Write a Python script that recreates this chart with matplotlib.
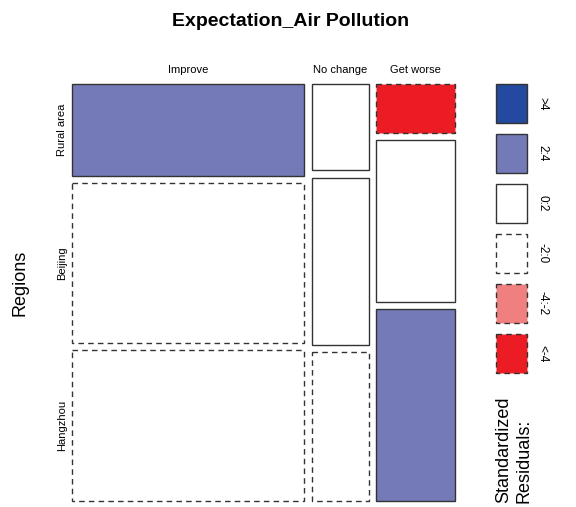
import numpy as np
import matplotlib.pyplot as plt
from matplotlib.patches import Rectangle

plt.rcParams['font.family'] = ['Liberation Sans', 'DejaVu Sans']

# contingency table: rows = regions, columns = expectation
regions = ["Rural area", "Beijing", "Hangzhou"]
expectation = ["Improve", "No change", "Get worse"]
counts = np.array([
    [576, 132, 104],
    [1000, 256, 344],
    [944, 228, 408],
])

legend_labels = [">4", "2:4", "0:2", "-2:0", "-4:-2", "<-4"]
legend_colors = ["#2449a0", "#7479b8", "#ffffff", "#ffffff", "#f08080", "#ec1c24"]
legend_dashed = [False, False, False, True, True, True]


def shade(r):
    # pick colour / line style from the Pearson residual
    if r > 4:
        i = 0
    elif r > 2:
        i = 1
    elif r >= 0:
        i = 2
    elif r > -2:
        i = 3
    elif r > -4:
        i = 4
    else:
        i = 5
    return legend_colors[i], legend_dashed[i]


n = counts.sum()
expected = np.outer(counts.sum(axis=1), counts.sum(axis=0)) / n
resid = (counts - expected) / np.sqrt(expected)

W, H = 576, 507
fig = plt.figure(figsize=(W / 100, H / 100), dpi=100)
ax = fig.add_axes([0, 0, 1, 1])
ax.set_xlim(0, W)
ax.set_ylim(H, 0)
ax.axis("off")

# mosaic area in pixels
x0, x1, y0, y1 = 72, 455, 84, 501
gap = 7.5
col_tot = counts.sum(axis=0)
col_w = (x1 - x0 - gap * (len(expectation) - 1)) * col_tot / col_tot.sum()
edge = "#333333"

x = x0
for j, lab in enumerate(expectation):
    heights = (y1 - y0 - gap * (len(regions) - 1)) * counts[:, j] / col_tot[j]
    y = y0
    for i in range(len(regions)):
        fc, dashed = shade(resid[i, j])
        ax.add_patch(Rectangle((x, y), col_w[j], heights[i], facecolor=fc,
                               edgecolor=edge, lw=1.0,
                               linestyle=(0, (4, 3)) if dashed else "-"))
        if j == 0:
            ax.text(62, y + heights[i] / 2, regions[i], rotation=90,
                    ha="center", va="center", fontsize=8)
        y += heights[i] + gap
    ax.text(x + col_w[j] / 2, 70, lab, ha="center", va="center", fontsize=8)
    x += col_w[j] + gap

ax.text(291, 21, "Expectation_Air Pollution", ha="center", va="center",
        fontsize=14, fontweight="bold")
ax.text(20, 283, "Regions", rotation=90, ha="center", va="center", fontsize=13)

# legend for residual shading
for k, lab in enumerate(legend_labels):
    ly = 84 + k * 50
    ax.add_patch(Rectangle((496, ly), 31, 39, facecolor=legend_colors[k],
                           edgecolor=edge, lw=1.0,
                           linestyle=(0, (4, 3)) if legend_dashed[k] else "-"))
    ax.text(542, ly + 19.5, lab, rotation=-90, ha="center", va="center",
            fontsize=8.5)

ax.text(514, 503, "Standardized\nResiduals:", rotation=90, ha="center",
        va="bottom", fontsize=13, linespacing=1.2, multialignment="left")

fig.savefig("out.png", dpi=100)
